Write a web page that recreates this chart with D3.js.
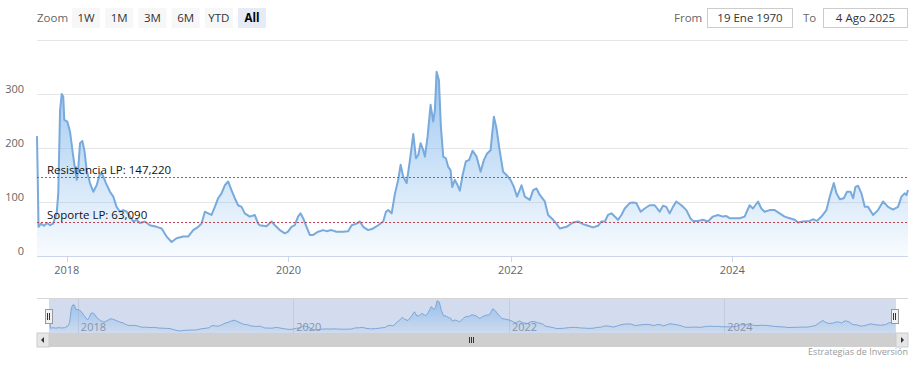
<!DOCTYPE html>
<html><head><meta charset="utf-8">
<script src="https://cdn.jsdelivr.net/npm/d3@7"></script>
<style>
html,body{margin:0;padding:0;background:#fff;}
svg{display:block;font-family:"Open Sans",sans-serif;}
</style></head>
<body><svg id="c" width="921" height="368"></svg>
<script>
// ---- data (decimal year, value) ----
const years = [2017.732,2017.746,2017.768,2017.795,2017.823,2017.850,2017.877,2017.910,2017.924,2017.940,2017.955,2017.969,2017.978,2018.005,2018.030,2018.059,2018.090,2018.105,2018.120,2018.141,2018.159,2018.180,2018.210,2018.240,2018.270,2018.300,2018.324,2018.354,2018.390,2018.420,2018.450,2018.480,2018.510,2018.541,2018.570,2018.600,2018.631,2018.660,2018.705,2018.750,2018.811,2018.856,2018.901,2018.946,2018.991,2019.050,2019.095,2019.141,2019.186,2019.216,2019.246,2019.276,2019.306,2019.336,2019.366,2019.396,2019.426,2019.456,2019.486,2019.516,2019.546,2019.577,2019.606,2019.651,2019.696,2019.726,2019.741,2019.802,2019.847,2019.877,2019.922,2019.967,2019.996,2020.027,2020.057,2020.086,2020.108,2020.132,2020.162,2020.192,2020.222,2020.267,2020.312,2020.342,2020.387,2020.432,2020.492,2020.537,2020.568,2020.613,2020.642,2020.672,2020.717,2020.762,2020.807,2020.852,2020.877,2020.897,2020.928,2020.958,2020.987,2021.009,2021.032,2021.063,2021.093,2021.123,2021.147,2021.168,2021.189,2021.213,2021.228,2021.252,2021.279,2021.303,2021.318,2021.333,2021.354,2021.372,2021.393,2021.417,2021.438,2021.459,2021.474,2021.498,2021.523,2021.543,2021.568,2021.597,2021.627,2021.658,2021.694,2021.730,2021.760,2021.789,2021.820,2021.850,2021.874,2021.897,2021.933,2021.964,2022.000,2022.030,2022.059,2022.099,2022.129,2022.174,2022.204,2022.234,2022.264,2022.309,2022.339,2022.384,2022.414,2022.444,2022.505,2022.564,2022.609,2022.654,2022.699,2022.744,2022.789,2022.820,2022.850,2022.879,2022.910,2022.940,2022.969,2023.000,2023.030,2023.075,2023.105,2023.135,2023.174,2023.210,2023.255,2023.300,2023.345,2023.375,2023.405,2023.435,2023.465,2023.495,2023.541,2023.586,2023.622,2023.645,2023.690,2023.735,2023.780,2023.825,2023.870,2023.915,2023.946,2023.976,2024.021,2024.066,2024.111,2024.156,2024.186,2024.231,2024.261,2024.291,2024.336,2024.381,2024.426,2024.471,2024.516,2024.561,2024.591,2024.636,2024.696,2024.726,2024.762,2024.802,2024.847,2024.877,2024.913,2024.937,2024.967,2025.003,2025.032,2025.063,2025.087,2025.108,2025.132,2025.162,2025.192,2025.222,2025.267,2025.312,2025.357,2025.402,2025.447,2025.492,2025.523,2025.552,2025.568,2025.582];
const values = [222,54,60,56,61,57,60,80,117,270,300,295,252,249,230,184,141,165,209,213,196,159,135,119,131,153,150,135,119,110,91,82,85,82,73,64,67,61,64,57,54,51,36,26,33,36,36,48,54,60,82,79,76,91,107,116,131,138,122,107,94,91,79,73,76,60,57,55,64,57,48,42,45,54,57,73,79,70,54,39,39,45,48,46,48,45,45,46,57,60,64,54,48,51,57,64,82,85,79,116,141,169,147,135,178,226,181,187,209,196,184,221,280,249,270,341,326,239,184,181,165,159,128,141,131,121,150,175,178,195,184,156,178,190,196,258,236,202,156,150,141,128,110,131,110,104,122,125,113,101,76,67,60,51,54,62,64,59,56,53,56,64,64,76,79,73,67,76,88,98,99,98,82,88,94,94,82,93,91,79,91,101,94,85,70,65,65,67,64,73,76,73,74,70,70,70,73,94,88,101,88,82,85,85,79,73,70,67,62,64,65,68,65,73,85,110,135,116,105,107,119,119,107,128,130,116,91,91,76,85,101,91,86,91,110,116,113,122];
const yTicks = [0,100,200,300,400];
const yTickLabels = ["0","100","200","300",""];
const xTickYears = [2018,2020,2022,2024];
const resistance = 147.22, resistanceLabel = "Resistencia LP: 147,220";
const support = 63.09, supportLabel = "Soporte LP: 63,090";
const rangeButtons = ["1W","1M","3M","6M","YTD","All"];
const fromText = "19 Ene 1970", toText = "4 Ago 2025";
const credits = "Estrategias de Inversión";

function toDate(y){
  const yr = Math.floor(y);
  const s = new Date(yr,0,1), e = new Date(yr+1,0,1);
  return new Date(s.getTime() + (y-yr)*(e-s));
}
const data = years.map((y,i)=>({d:toDate(y), v:values[i]}));

const svg = d3.select("#c");
const defs = svg.append("defs");
const g1 = defs.append("linearGradient").attr("id","gMain").attr("x1",0).attr("y1",0).attr("x2",0).attr("y2",1);
g1.append("stop").attr("offset",0).attr("stop-color","#7cb5ec").attr("stop-opacity",0.75);
g1.append("stop").attr("offset",1).attr("stop-color","#7cb5ec").attr("stop-opacity",0.05);
const g2 = defs.append("linearGradient").attr("id","gNav").attr("x1",0).attr("y1",0).attr("x2",0).attr("y2",1);
g2.append("stop").attr("offset",0).attr("stop-color","#7cb5ec").attr("stop-opacity",0.7);
g2.append("stop").attr("offset",1).attr("stop-color","#7cb5ec").attr("stop-opacity",0.05);

const L=37, R=908;
const x = d3.scaleTime().domain(d3.extent(data,d=>d.d)).range([L,R]);
const y = d3.scaleLinear().domain([0,400]).range([256,40]);

// gridlines
svg.append("g").selectAll("line").data(yTicks).join("line")
  .attr("x1",L).attr("x2",R).attr("y1",d=>Math.round(y(d))+0.5).attr("y2",d=>Math.round(y(d))+0.5)
  .attr("stroke","#e6e6e6");
// y labels
svg.append("g").selectAll("text").data(yTicks).join("text")
  .attr("x",24).attr("y",d=>y(d)-1.5).attr("text-anchor","end")
  .attr("font-size",11).attr("fill","#666").text((d,i)=>yTickLabels[i]);

// area + line
const area = d3.area().x(d=>x(d.d)).y0(y(0)).y1(d=>y(d.v));
const line = d3.line().x(d=>x(d.d)).y(d=>y(d.v));
svg.append("path").datum(data).attr("d",area).attr("fill","url(#gMain)");
svg.append("path").datum(data).attr("d",line).attr("fill","none").attr("stroke","#78aadc").attr("stroke-width",2).attr("stroke-linejoin","round");

// x axis
const xTicks = xTickYears.map(v=>new Date(v,0,1));
svg.append("line").attr("x1",L).attr("x2",R).attr("y1",256.5).attr("y2",256.5).attr("stroke","#ccd6eb");
svg.append("g").selectAll("line").data(xTicks).join("line")
  .attr("x1",d=>Math.round(x(d))+0.5).attr("x2",d=>Math.round(x(d))+0.5).attr("y1",256).attr("y2",262).attr("stroke","#ccd6eb");
svg.append("g").selectAll("text").data(xTicks).join("text")
  .attr("x",d=>x(d)).attr("y",274).attr("text-anchor","middle").attr("font-size",11).attr("fill","#666")
  .text(d=>d.getFullYear());

// plot lines
function pline(v,color,label){
  const yy = Math.round(y(v))+0.5;
  svg.append("line").attr("x1",L).attr("x2",R).attr("y1",yy).attr("y2",yy)
    .attr("stroke",color).attr("stroke-width",1).attr("stroke-dasharray","2,2");
  svg.append("text").attr("x",47).attr("y",yy-4).attr("font-size",11.5).attr("fill","#111").text(label);
}
pline(resistance,"#2f9e2f",resistanceLabel);
pline(support,"#c04050",supportLabel);

// navigator
const NL=48, NR=895, NT=298, NB=333;
svg.append("rect").attr("x",NL+1).attr("y",NT).attr("width",NR-NL).attr("height",NB-NT).attr("fill","#d3dcee");
const xn = d3.scaleTime().domain(x.domain()).range([NL+1,NR]);
const yn = d3.scaleLinear().domain([0,d3.max(values)]).range([333.5,300.7]);
svg.append("g").selectAll("line").data(xTicks).join("line")
  .attr("x1",d=>Math.round(xn(d))+0.5).attr("x2",d=>Math.round(xn(d))+0.5).attr("y1",NT).attr("y2",NB).attr("stroke","#c2cadc");
svg.append("path").datum(data).attr("d",d3.area().x(d=>xn(d.d)).y0(NB).y1(d=>yn(d.v))).attr("fill","url(#gNav)");
svg.append("path").datum(data).attr("d",d3.line().x(d=>xn(d.d)).y(d=>yn(d.v))).attr("fill","none").attr("stroke","#7ea6d6").attr("stroke-width",1);
svg.append("g").selectAll("text").data(xTicks).join("text")
  .attr("x",d=>xn(d)+3).attr("y",331).attr("font-size",11).attr("fill","#8a93a8").text(d=>d.getFullYear());
svg.append("line").attr("x1",L).attr("x2",R).attr("y1",NT+0.5).attr("y2",NT+0.5).attr("stroke","#d6d6d6");
// handles
[NL+1, NR].forEach(hx=>{
  svg.append("rect").attr("x",Math.round(hx)-3.5).attr("y",309.5).attr("width",7).attr("height",14).attr("fill","#f2f2f2").attr("stroke","#999");
  svg.append("line").attr("x1",Math.round(hx)-1.5).attr("x2",Math.round(hx)-1.5).attr("y1",313).attr("y2",320).attr("stroke","#333");
  svg.append("line").attr("x1",Math.round(hx)+0.5).attr("x2",Math.round(hx)+0.5).attr("y1",313).attr("y2",320).attr("stroke","#333");
});
// scrollbar
svg.append("rect").attr("x",L).attr("y",333).attr("width",R-L).attr("height",14).attr("fill","#cfcfcf");
[[L,"l"],[R-12,"r"]].forEach(([bx,dir])=>{
  svg.append("rect").attr("x",bx).attr("y",333).attr("width",12).attr("height",14).attr("fill","#e6e6e6").attr("stroke","#cccccc");
  const cx=bx+6, cy=340;
  const pts = dir==="l" ? [[cx-2,cy],[cx+1,cy-3],[cx+1,cy+3]] : [[cx+2,cy],[cx-1,cy-3],[cx-1,cy+3]];
  svg.append("path").attr("d","M"+pts.map(p=>p.join(",")).join("L")+"Z").attr("fill","#333");
});
[-2,0,2].forEach(o=>svg.append("line").attr("x1",471+o+0.5).attr("x2",471+o+0.5).attr("y1",337).attr("y2",343).attr("stroke","#333"));

// credits
svg.append("text").attr("x",908).attr("y",355).attr("text-anchor","end").attr("font-size",9).attr("fill","#999").text(credits);

// range selector
svg.append("text").attr("x",37).attr("y",22).attr("font-size",11.5).attr("fill","#666").text("Zoom");
rangeButtons.forEach((b,i)=>{
  const bx = 72 + i*33.2;
  const sel = b==="All";
  svg.append("rect").attr("x",bx).attr("y",8).attr("width",28).attr("height",20).attr("fill",sel?"#e6ebf5":"#f7f7f7");
  svg.append("text").attr("x",bx+14).attr("y",22).attr("text-anchor","middle").attr("font-size",11.5)
    .attr("font-weight",sel?"bold":"normal").attr("fill",sel?"#000":"#333").text(b);
});
// from / to
svg.append("text").attr("x",674).attr("y",22).attr("font-size",11.5).attr("fill","#666").text("From");
svg.append("rect").attr("x",707.5).attr("y",8.5).attr("width",85).attr("height",19).attr("fill","#fff").attr("stroke","#ccc");
svg.append("text").attr("x",750).attr("y",22).attr("text-anchor","middle").attr("font-size",11.5).attr("fill","#333").text(fromText);
svg.append("text").attr("x",803).attr("y",22).attr("font-size",11.5).attr("fill","#666").text("To");
svg.append("rect").attr("x",823.5).attr("y",8.5).attr("width",84).attr("height",19).attr("fill","#fff").attr("stroke","#ccc");
svg.append("text").attr("x",865.5).attr("y",22).attr("text-anchor","middle").attr("font-size",11.5).attr("fill","#333").text(toText);
</script></body></html>
